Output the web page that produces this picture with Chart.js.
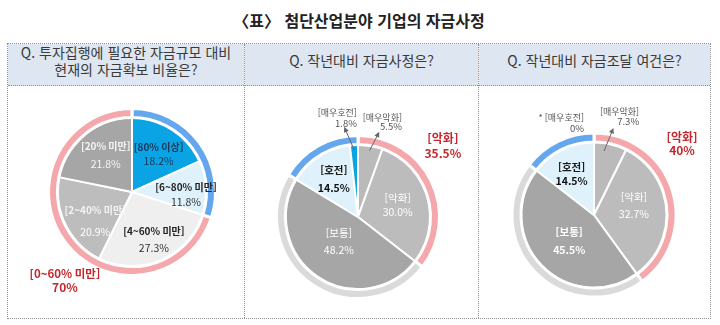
<!DOCTYPE html>
<html lang="ko">
<head>
<meta charset="utf-8">
<title>첨단산업분야 기업의 자금사정</title>
<script src="https://cdn.jsdelivr.net/npm/chart.js@4.4.1/dist/chart.umd.min.js"></script>
<style>
  html, body { margin: 0; padding: 0; background: #fff; }
  body {
    position: relative; width: 720px; height: 325px; overflow: hidden;
    font-family: "Noto Sans CJK KR", "Noto Sans", sans-serif; color: #333;
  }
  .title {
    position: absolute; left: 0; top: 8px; width: 718px;
    text-align: center; font-size: 16px; font-weight: 700; color: #222;
  }
  .sheet {
    position: absolute; left: 7px; top: 43px; width: 704px; height: 276px;
    border: 1px dotted #8f8f8f; box-sizing: border-box;
  }
  .head {
    position: absolute; top: 0; height: 41px; background: #dde6f1;
    border-bottom: 1px dotted #8f8f8f; box-sizing: content-box;
    display: flex; align-items: center; justify-content: center;
    font-size: 14px; line-height: 17px; color: #3a3a3a; text-align: center;
  }
  .head span { display: block; margin-top: -8px; }
  .vline { position: absolute; top: 0; bottom: 0; width: 0; border-left: 1px dotted #8f8f8f; }
  canvas { position: absolute; }
</style>
</head>
<body>
<div class="title">〈표〉 첨단산업분야 기업의 자금사정</div>
<div class="sheet">
  <div class="head" style="left:0;width:236px"><span>Q. 투자집행에 필요한 자금규모 대비<br>현재의 자금확보 비율은?</span></div>
  <div class="head" style="left:237px;width:233px"><span>Q. 작년대비 자금사정은?</span></div>
  <div class="head" style="left:471px;width:231px"><span>Q. 작년대비 자금조달 여건은?</span></div>
  <div class="vline" style="left:236px"></div>
  <div class="vline" style="left:470px"></div>
</div>
<canvas id="secure" width="236" height="232" style="left:8px;top:86px"></canvas>
<canvas id="fund" width="233" height="232" style="left:245px;top:86px"></canvas>
<canvas id="raise" width="231" height="232" style="left:479px;top:86px"></canvas>
<script>
// 투자집행 대비 자금확보 비율
const SECURE_LABELS = ['80% 이상', '6~80% 미만', '4~60% 미만', '2~40% 미만', '20% 미만'];
const SECURE_VALUES = [18.2, 11.8, 27.3, 20.9, 21.8];
const SECURE_GROUP_LABELS = ['60% 이상', '0~60% 미만'];
const SECURE_GROUP_VALUES = [30, 70];

// 작년대비 자금사정
const FUND_LABELS = ['매우악화', '악화', '보통', '호전', '매우호전'];
const FUND_VALUES = [5.5, 30.0, 48.2, 14.5, 1.8];
const FUND_GROUP_LABELS = ['악화', '보통', '호전'];
const FUND_GROUP_VALUES = [35.5, 48.2, 16.3];

// 작년대비 자금조달 여건
const RAISE_LABELS = ['매우악화', '악화', '보통', '호전', '매우호전'];
const RAISE_VALUES = [7.3, 32.7, 45.5, 14.5, 0];
const RAISE_GROUP_LABELS = ['악화', '보통', '호전'];
const RAISE_GROUP_VALUES = [40, 45.5, 14.5];

const FONT = '"Noto Sans CJK KR", "Noto Sans", sans-serif';
const RED = '#c3262d';
const NOTE = '#555';
const BLUE = '#0aa4e4';
const PALE_BLUE = '#dff1fb';
const RING_BLUE = '#64a7ee';
const RING_PINK = '#f5a8ac';
const RING_GRAY = '#dadada';
const RING_BAND = 9; // thickness of the outer group ring, px

const pct = (v) => (v === 0 ? '0%' : v.toFixed(1) + '%');
const grp = (v) => v + '%';

function drawArrow(ctx, x0, y0, x1, y1) {
  const a = Math.atan2(y1 - y0, x1 - x0);
  ctx.strokeStyle = '#666';
  ctx.fillStyle = '#666';
  ctx.lineWidth = 1;
  ctx.beginPath();
  ctx.moveTo(x0, y0);
  ctx.lineTo(x1 - Math.cos(a) * 4, y1 - Math.sin(a) * 4);
  ctx.stroke();
  ctx.beginPath();
  ctx.moveTo(x1, y1);
  ctx.lineTo(x1 - Math.cos(a - 0.45) * 6, y1 - Math.sin(a - 0.45) * 6);
  ctx.lineTo(x1 - Math.cos(a + 0.45) * 6, y1 - Math.sin(a + 0.45) * 6);
  ctx.closePath();
  ctx.fill();
}

// Text blocks anchored on an arc: `at` is a fraction of the arc's outer radius
// along its middle angle, dx/dy nudge the block, arrow = [from, sdx, sdy, ex, ey].
const sliceLabels = {
  id: 'sliceLabels',
  afterDatasetsDraw(chart, args, opts) {
    const ctx = chart.ctx;
    ctx.save();
    (opts.items || []).forEach((item) => {
      const arc = chart.getDatasetMeta(item.ds).data[item.index];
      if (!arc) return;
      const p = arc.getProps(['x', 'y', 'startAngle', 'endAngle', 'outerRadius'], true);
      const mid = (p.startAngle + p.endAngle) / 2;
      const ax = p.x + Math.cos(mid) * p.outerRadius * item.at + (item.dx || 0);
      const ay = p.y + Math.sin(mid) * p.outerRadius * item.at + (item.dy || 0);
      if (item.arrow) {
        const [f, sdx, sdy, ex, ey] = item.arrow;
        drawArrow(ctx,
          p.x + Math.cos(mid) * p.outerRadius * f + sdx,
          p.y + Math.sin(mid) * p.outerRadius * f + sdy,
          ax + ex, ay + ey);
      }
      const gap = item.gap || 14;
      const top = ay - (gap * (item.lines.length - 1)) / 2;
      ctx.textAlign = item.align || 'center';
      ctx.textBaseline = 'middle';
      item.lines.forEach(([text, color, size, weight], k) => {
        ctx.font = `${weight || 'normal'} ${size}px ${FONT}`;
        ctx.fillStyle = color;
        ctx.fillText(text, ax, top + k * gap);
      });
    });
    ctx.restore();
  },
};

function groupPie(canvas, geo, ring, pie, items) {
  const s = geo.r + 2;
  return new Chart(canvas.getContext('2d'), {
    type: 'doughnut',
    data: {
      datasets: [
        {
          labels: ring.labels,
          data: ring.values,
          backgroundColor: ring.colors,
          borderColor: '#fff',
          borderWidth: 3,
          weight: RING_BAND,
        },
        {
          labels: pie.labels,
          data: pie.values,
          backgroundColor: pie.colors,
          borderColor: '#fff',
          borderWidth: 2,
          weight: geo.r - RING_BAND,
        },
      ],
    },
    options: {
      responsive: false,
      animation: false,
      events: [],
      cutout: 0,
      radius: geo.r,
      hoverOffset: 0,
      offset: 0,
      layout: {
        padding: {
          left: geo.cx - s,
          top: geo.cy - s,
          right: canvas.width - geo.cx - s,
          bottom: canvas.height - geo.cy - s,
        },
      },
      plugins: {
        legend: { display: false },
        tooltip: { enabled: false },
        sliceLabels: { items },
      },
    },
    plugins: [sliceLabels],
  });
}

// 1) 자금확보 비율
const L1 = SECURE_LABELS, V1 = SECURE_VALUES;
groupPie(
  document.getElementById('secure'),
  { cx: 124, cy: 106, r: 83.5 },
  { labels: SECURE_GROUP_LABELS, values: SECURE_GROUP_VALUES, colors: [RING_BLUE, RING_PINK] },
  { labels: L1, values: V1, colors: [BLUE, PALE_BLUE, '#efefef', '#bdbdbd', '#a6a6a6'] },
  [
    { ds: 1, index: 0, at: 0.61, dx: 2, gap: 14,
      lines: [[`[${L1[0]}]`, '#1d3558', 10, 'bold'], [pct(V1[0]), '#1d3558', 10.5]] },
    { ds: 1, index: 1, at: 0.725, dy: 5.5, gap: 15,
      lines: [[`[${L1[1]}]`, '#222', 10, 'bold'], [pct(V1[1]), '#333', 10.5]] },
    { ds: 1, index: 2, at: 0.70, dx: 1.6, dy: -0.7, gap: 17,
      lines: [[`[${L1[2]}]`, '#222', 10, 'bold'], [pct(V1[2]), '#333', 10.5]] },
    { ds: 1, index: 3, at: 0.64, dx: 6, dy: 8, gap: 22,
      lines: [[`[${L1[3]}]`, '#f4f4f4', 10, 'bold'], [pct(V1[3]), '#fff', 10.5]] },
    { ds: 1, index: 4, at: 0.60, dx: 2, dy: -2.4, gap: 18,
      lines: [[`[${L1[4]}]`, '#f4f4f4', 10, 'bold'], [pct(V1[4]), '#f4f4f4', 10.5]] },
    { ds: 0, index: 1, at: 1.33, dx: 22.8, dy: 23.3, gap: 14,
      lines: [[`[${SECURE_GROUP_LABELS[1]}]`, RED, 11.5, 'bold'], [grp(SECURE_GROUP_VALUES[1]), RED, 12, 'bold']] },
  ]
);

// 2) 자금사정
const L2 = FUND_LABELS, V2 = FUND_VALUES;
groupPie(
  document.getElementById('fund'),
  { cx: 113, cy: 131, r: 81.5 },
  { labels: FUND_GROUP_LABELS, values: FUND_GROUP_VALUES, colors: [RING_PINK, RING_GRAY, RING_BLUE] },
  { labels: L2, values: V2, colors: ['#bababa', '#bcbcbc', '#a6a6a6', PALE_BLUE, BLUE] },
  [
    { ds: 1, index: 1, at: 0.57, gap: 14,
      lines: [[`[${L2[1]}]`, '#fff', 10.5], [pct(V2[1]), '#fff', 10.5]] },
    { ds: 1, index: 2, at: 0.43, dx: -1.4, dy: -1, gap: 17,
      lines: [[`[${L2[2]}]`, '#fff', 10.5], [pct(V2[2]), '#fff', 10.5]] },
    { ds: 1, index: 3, at: 0.62, gap: 18,
      lines: [[`[${L2[3]}]`, '#1a1a1a', 10.5, 'bold'], [pct(V2[3]), '#111', 10.5, 'bold']] },
    { ds: 1, index: 0, at: 1.37, dx: 26.9, dy: 2.5, gap: 9, align: 'right',
      arrow: [0.93, 0, 0, -22.7, 10.2],
      lines: [[`[${L2[0]}]`, NOTE, 9], [pct(V2[0]), NOTE, 9.5]] },
    { ds: 1, index: 4, at: 1.365, dx: 4.5, dy: -0.2, gap: 10, align: 'right',
      arrow: [0.925, 0, 0, -12.7, 8.7],
      lines: [[`[${L2[4]}]`, NOTE, 9], [pct(V2[4]), NOTE, 9.5]] },
    { ds: 0, index: 0, at: 1.36, dx: -14.7, dy: -22.7, gap: 15,
      lines: [[`[${FUND_GROUP_LABELS[0]}]`, RED, 12, 'bold'], [grp(FUND_GROUP_VALUES[0]), RED, 12, 'bold']] },
  ]
);

// 3) 자금조달 여건
const L3 = RAISE_LABELS, V3 = RAISE_VALUES;
groupPie(
  document.getElementById('raise'),
  { cx: 115, cy: 129, r: 82 },
  { labels: RAISE_GROUP_LABELS, values: RAISE_GROUP_VALUES, colors: [RING_PINK, RING_GRAY, RING_BLUE] },
  { labels: L3, values: V3, colors: ['#bababa', '#bcbcbc', '#a6a6a6', PALE_BLUE, BLUE] },
  [
    { ds: 1, index: 1, at: 0.56, dx: -0.85, dy: -6, gap: 17,
      lines: [[`[${L3[1]}]`, '#fff', 10.5], [pct(V3[1]), '#fff', 10.5]] },
    { ds: 1, index: 2, at: 0.49, dx: 0.9, dy: 1, gap: 18,
      lines: [[`[${L3[2]}]`, '#fff', 10.5, 'bold'], [pct(V3[2]), '#fff', 10.5, 'bold']] },
    { ds: 1, index: 3, at: 0.64, dx: -1.9, dy: 1, gap: 14,
      lines: [[`[${L3[3]}]`, '#1a1a1a', 10.5, 'bold'], [pct(V3[3]), '#111', 10.5, 'bold']] },
    { ds: 1, index: 0, at: 1.4, dx: 21.9, dy: 1.3, gap: 10, align: 'right',
      arrow: [0.89, -4.7, -0.7, -25.7, 11.3],
      lines: [[`[${L3[0]}]`, NOTE, 9], [pct(V3[0]), NOTE, 9.5]] },
    { ds: 1, index: 4, at: 1.26, dx: -10, gap: 10, align: 'right',
      lines: [[`* [${L3[4]}]`, NOTE, 9], [pct(V3[4]), NOTE, 9.5]] },
    { ds: 0, index: 0, at: 1.377, dx: -19.4, dy: -35.8, gap: 13,
      lines: [[`[${RAISE_GROUP_LABELS[0]}]`, RED, 12, 'bold'], [grp(RAISE_GROUP_VALUES[0]), RED, 12, 'bold']] },
  ]
);
</script>
</body>
</html>
